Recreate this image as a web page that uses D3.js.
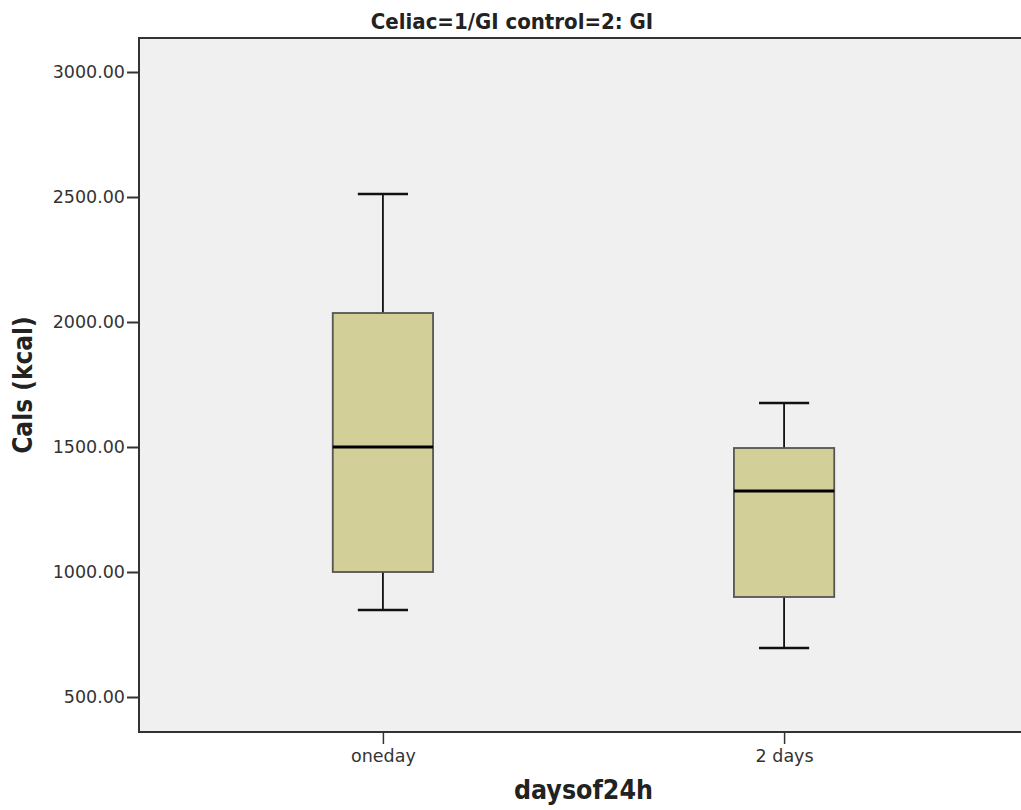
<!DOCTYPE html>
<html><head><meta charset="utf-8">
<script src="https://cdnjs.cloudflare.com/ajax/libs/d3/7.8.5/d3.min.js"></script>
<style>body{margin:0;background:#fff;} svg{display:block;}</style>
</head><body>
<script>
const categories = ["oneday", "2 days"];
const whiskerLow  = [848, 696];
const q1          = [1000, 900];
const median      = [1500, 1324];
const q3          = [2036, 1496];
const whiskerHigh = [2512, 1676];
const yTicks = [500, 1000, 1500, 2000, 2500, 3000];

const W = 1021, H = 810;
const m = {left: 139, top: 38, right: 1028, bottom: 732};
const svg = d3.select("body").append("svg").attr("width", W).attr("height", H);

const x = d3.scalePoint().domain(categories).range([m.left, m.right]).padding(0.608);
const y = d3.scaleLinear().domain([360, 3136]).range([m.bottom, m.top]);
const bw = x.step() * 0.25;

svg.append("rect").attr("x", m.left).attr("y", m.top).attr("width", m.right - m.left).attr("height", m.bottom - m.top)
  .attr("fill", "#f0f0f0").attr("stroke", "#333").attr("stroke-width", 2);

const data = categories.map((c, i) => ({c, lo: whiskerLow[i], q1: q1[i], med: median[i], q3: q3[i], hi: whiskerHigh[i]}));
const g = svg.append("g");
data.forEach(d => {
  const cx = x(d.c);
  g.append("line").attr("x1", cx).attr("x2", cx).attr("y1", y(d.hi)).attr("y2", y(d.q3)).attr("stroke", "#111").attr("stroke-width", 1.8);
  g.append("line").attr("x1", cx).attr("x2", cx).attr("y1", y(d.q1)).attr("y2", y(d.lo)).attr("stroke", "#111").attr("stroke-width", 1.8);
  g.append("line").attr("x1", cx - bw / 4).attr("x2", cx + bw / 4).attr("y1", y(d.hi)).attr("y2", y(d.hi)).attr("stroke", "#111").attr("stroke-width", 2.5);
  g.append("line").attr("x1", cx - bw / 4).attr("x2", cx + bw / 4).attr("y1", y(d.lo)).attr("y2", y(d.lo)).attr("stroke", "#111").attr("stroke-width", 2.5);
  g.append("rect").attr("x", cx - bw / 2).attr("width", bw).attr("y", y(d.q3)).attr("height", y(d.q1) - y(d.q3))
    .attr("fill", "#d3cf98").attr("stroke", "#555").attr("stroke-width", 1.8);
  g.append("line").attr("x1", cx - bw / 2).attr("x2", cx + bw / 2).attr("y1", y(d.med)).attr("y2", y(d.med)).attr("stroke", "#000").attr("stroke-width", 3);
});

const tickFont = "DejaVu Sans";
const yAxis = svg.append("g").attr("transform", `translate(${m.left},0)`)
  .call(d3.axisLeft(y).tickValues(yTicks).tickFormat(d3.format(".2f")).tickSize(12).tickPadding(2));
yAxis.select(".domain").remove();
yAxis.selectAll(".tick line").attr("stroke", "#333").attr("stroke-width", 2);
yAxis.selectAll("text").attr("font-family", tickFont).attr("font-size", 17.5).attr("fill", "#333");

const xAxis = svg.append("g").attr("transform", `translate(0,${m.bottom})`)
  .call(d3.axisBottom(x).tickSize(12).tickPadding(0));
xAxis.select(".domain").remove();
xAxis.selectAll(".tick line").attr("stroke", "#333").attr("stroke-width", 1.5);
xAxis.selectAll("text").attr("font-family", tickFont).attr("font-size", 17.5).attr("fill", "#333")
  .attr("dy", null).attr("y", 30);

const titleFont = "DejaVu Sans Condensed, DejaVu Sans";
svg.append("text").attr("x", 512).attr("y", 29).attr("text-anchor", "middle")
  .attr("font-family", titleFont).attr("font-weight", "bold").attr("font-size", 22).attr("fill", "#222")
  .text("Celiac=1/GI control=2: GI");
svg.append("text").attr("x", (m.left + m.right) / 2).attr("y", 799).attr("text-anchor", "middle")
  .attr("font-family", titleFont).attr("font-weight", "bold").attr("font-size", 26.5).attr("fill", "#222")
  .text("daysof24h");
svg.append("text").attr("transform", `translate(32,385) rotate(-90)`).attr("text-anchor", "middle")
  .attr("font-family", titleFont).attr("font-weight", "bold").attr("font-size", 26).attr("fill", "#222")
  .text("Cals (kcal)");
</script>
</body></html>
